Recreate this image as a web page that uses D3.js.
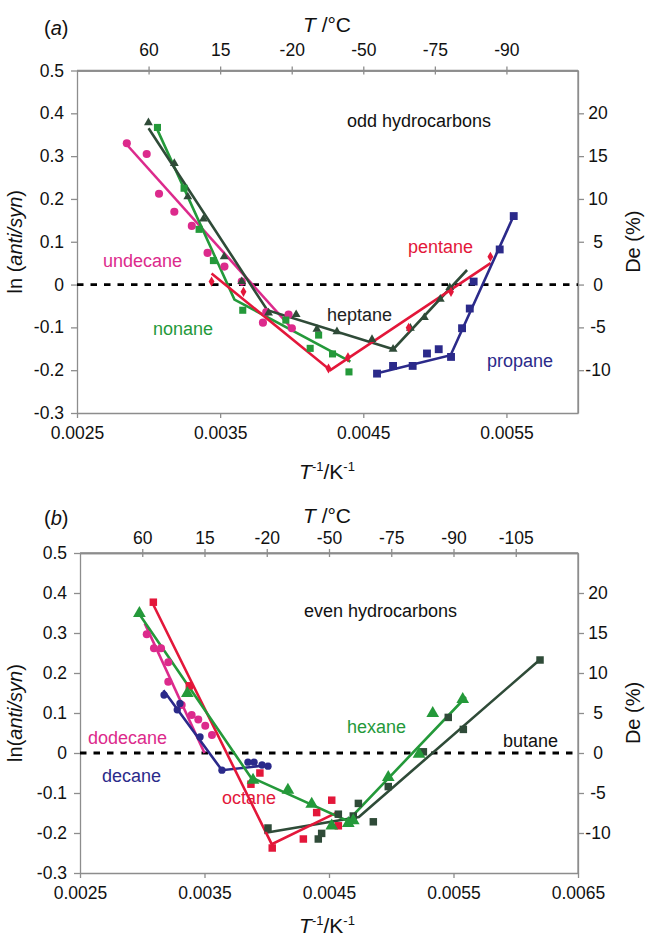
<!DOCTYPE html>
<html><head><meta charset="utf-8">
<script src="https://cdn.jsdelivr.net/npm/d3@7/dist/d3.min.js"></script>
<style>
body{margin:0;background:#fff;}
svg{display:block;font-family:"Liberation Sans",Arial,sans-serif;}
</style></head>
<body><svg id="c" width="648" height="943"></svg>
<script>
// ---------- Panel (a): odd hydrocarbons ----------
const undecaneX = [0.002848,0.002987,0.003073,0.00318,0.003302,0.003412,0.00353,0.003651,0.003799,0.003822,0.003978,0.004001];
const undecaneY = [0.330,0.305,0.212,0.170,0.137,0.074,0.042,0.007,-0.089,-0.064,-0.070,-0.102];
const undecaneFit = [[0.00285,0.326],[0.00401,-0.106]];

const heptaneX = [0.002999,0.00318,0.003274,0.003383,0.003528,0.003651,0.003838,0.004031,0.004176,0.004316,0.004561,0.004708,0.004829,0.004927,0.005038,0.005104];
const heptaneY = [0.378,0.283,0.205,0.153,0.065,0.007,-0.066,-0.070,-0.104,-0.110,-0.128,-0.151,-0.102,-0.077,-0.034,-0.007];
const heptaneFit = [[0.0030,0.365],[0.00383,-0.06],[0.00471,-0.151],[0.005225,0.034]];

const nonaneX = [0.003062,0.003248,0.003353,0.003453,0.003658,0.003959,0.004188,0.004129,0.004285,0.0044];
const nonaneY = [0.367,0.225,0.129,0.056,-0.060,-0.083,-0.118,-0.149,-0.162,-0.204];
const nonaneFit = [[0.00305,0.37],[0.0036,-0.035],[0.00441,-0.18]];

const pentaneX = [0.00344,0.003663,0.004257,0.004393,0.004817,0.005113,0.005388];
const pentaneY = [0.007,-0.017,-0.196,-0.170,-0.101,-0.017,0.065];
const pentaneFit = [[0.00344,0.026],[0.00427,-0.20],[0.00539,0.05]];

const propaneX = [0.004596,0.004708,0.004845,0.004945,0.005027,0.005113,0.00519,0.005244,0.005271,0.005453,0.005551];
const propaneY = [-0.208,-0.190,-0.190,-0.161,-0.151,-0.169,-0.102,-0.056,0.007,0.082,0.160];
const propaneFit = [[0.00459,-0.208],[0.00511,-0.165],[0.00555,0.16]];

// ---------- Panel (b): even hydrocarbons ----------
const dodecaneX = [0.003036,0.003094,0.003151,0.003209,0.003209,0.003317,0.003397,0.00345,0.003506,0.00356];
const dodecaneY = [0.297,0.262,0.262,0.227,0.178,0.120,0.095,0.084,0.068,0.045];
const dodecaneFit = [[0.00302,0.324],[0.0035,0.0]];

const decaneX = [0.003175,0.003303,0.003281,0.003464,0.00364,0.003849,0.003898,0.003962,0.00401];
const decaneY = [0.145,0.124,0.108,0.040,-0.043,-0.023,-0.023,-0.030,-0.033];
const decaneFit = [[0.00317,0.157],[0.00364,-0.043],[0.00402,-0.03]];

const octaneX = [0.003089,0.003378,0.003873,0.003945,0.004044,0.004294,0.004401,0.004522,0.004575];
const octaneY = [0.377,0.168,-0.078,-0.050,-0.2375,-0.215,-0.149,-0.118,-0.182];
const octaneFit = [[0.00309,0.37],[0.00404,-0.228],[0.00457,-0.148]];

const hexaneX = [0.002977,0.003362,0.00389,0.00417,0.004361,0.004522,0.004655,0.004695,0.004976,0.005223,0.005333,0.005574];
const hexaneY = [0.349,0.149,-0.068,-0.093,-0.128,-0.182,-0.176,-0.169,-0.061,-0.003,0.099,0.134];
const hexaneFit = [[0.00297,0.35],[0.00387,-0.06],[0.00465,-0.17],[0.0056,0.14]];

const butaneX = [0.00401,0.004414,0.004441,0.004575,0.004695,0.004736,0.004856,0.004976,0.005258,0.005458,0.005579,0.006195];
const butaneY = [-0.1875,-0.215,-0.201,-0.153,-0.1575,-0.126,-0.172,-0.084,0.003,0.089,0.059,0.2325];
const butaneFit = [[0.00398,-0.2],[0.00474,-0.16],[0.0062,0.235]];

// ---------- Ticks ----------
const yTicks = [0.5,0.4,0.3,0.2,0.1,0,-0.1,-0.2,-0.3];
const yTickLabels = ["0.5","0.4","0.3","0.2","0.1","0","-0.1","-0.2","-0.3"];
const deTicks = [0.4,0.3,0.2,0.1,0,-0.1,-0.2];
const deTickLabels = ["20","15","10","5","0","-5","-10"];
const xTicksA = [0.0025,0.0035,0.0045,0.0055];
const xTicksB = [0.0025,0.0035,0.0045,0.0055,0.0065];
const topTicksA = [0.003,0.0035,0.004,0.0045,0.005,0.0055];
const topLabelsA = ["60","15","-20","-50","-75","-90"];
const topTicksB = [0.003,0.0035,0.004,0.0045,0.005,0.0055,0.006];
const topLabelsB = ["60","15","-20","-50","-75","-90","-105"];

const C = {mag:"#dc2a8c", grn:"#24993a", dkg:"#2f4b38", red:"#e3173a", blu:"#2b2a8a"};
const svg = d3.select("#c");
const AX = "#8d8d8d";

function panel(cfg){
  const x = d3.scaleLinear().domain(cfg.xd).range(cfg.xr);
  const y = d3.scaleLinear().domain([-0.3,0.5]).range(cfg.yr);
  const g = svg.append("g");
  const [x0,x1] = cfg.xr, [yb,yt] = cfg.yr;
  // axes
  g.append("g").attr("transform",`translate(${x0},0)`)
    .call(d3.axisLeft(y).tickValues(yTicks).tickFormat((d,i)=>yTickLabels[i]).tickSize(6).tickSizeOuter(0).tickPadding(7));
  g.append("g").attr("transform",`translate(0,${yb})`)
    .call(d3.axisBottom(x).tickValues(cfg.xt).tickFormat(d3.format(".4f")).tickSize(5).tickSizeOuter(0).tickPadding(cfg.bpad));
  const right = g.append("g").attr("transform",`translate(${x1},0)`)
    .call(d3.axisRight(y).tickValues(deTicks).tickFormat((d,i)=>deTickLabels[i]).tickSize(6).tickSizeOuter(0).tickPadding(13));
  right.selectAll("text").attr("text-anchor","middle").attr("x",20);
  g.append("g").attr("transform",`translate(0,${yt})`)
    .call(d3.axisTop(x).tickValues(cfg.tt).tickFormat((d,i)=>cfg.tl[i]).tickSize(4).tickSizeOuter(0).tickPadding(cfg.tpad));
  g.append("g").attr("transform",`translate(0,${yt})`)
    .call(d3.axisTop(x).tickValues(cfg.tt).tickFormat("").tickSize(-4).tickSizeOuter(0));
  g.selectAll(".domain").attr("stroke",AX).attr("stroke-width",1.3);
  g.selectAll(".tick line").attr("stroke",AX).attr("stroke-width",1.3);
  g.selectAll(".tick text").attr("font-size",17.5).attr("fill","#111").attr("font-family","Liberation Sans, Arial");
  g.append("line").attr("x1",x1).attr("x2",x1).attr("y1",yt).attr("y2",yb).attr("stroke",AX).attr("stroke-width",1.3);
  g.append("line").attr("x1",x0).attr("x2",x1).attr("y1",yt).attr("y2",yt).attr("stroke",AX).attr("stroke-width",1.3);

  // zero dashed line
  g.append("line").attr("x1",x0).attr("x2",x1).attr("y1",y(0)).attr("y2",y(0))
    .attr("stroke","#000").attr("stroke-width",2.8).attr("stroke-dasharray","6.5,7");

  const line = d3.line().x(d=>x(d[0])).y(d=>y(d[1]));
  cfg.series.forEach(s=>{
    g.append("path").attr("d",line(s.fit)).attr("fill","none").attr("stroke",s.color).attr("stroke-width",2.6);
  });
  cfg.series.forEach(s=>{
    const sym = d3.symbol().type(s.shape).size(s.size);
    g.selectAll(null).data(s.xs.map((v,i)=>[v,s.ys[i]])).join("path")
      .attr("d",sym).attr("transform",d=>`translate(${x(d[0])},${y(d[1])})`).attr("fill",s.color);
  });
  cfg.series.forEach(s=>{
    g.append("text").attr("x",s.lx).attr("y",s.ly).attr("font-size",18).attr("fill",s.tc||s.color).text(s.name);
  });
  g.append("text").attr("x",cfg.note[0]).attr("y",cfg.note[1]).attr("font-size",18).attr("fill","#111").text(cfg.noteText);

  // titles
  const tT = g.append("text").attr("x",327).attr("y",cfg.ttY).attr("text-anchor","middle").attr("font-size",21).attr("fill","#111");
  tT.append("tspan").attr("font-style","italic").text("T");
  tT.append("tspan").text(" /°C");
  g.append("text").attr("x",44).attr("y",cfg.ttY+cfg.lblDy).attr("font-size",20).attr("fill","#111")
    .html('(<tspan font-style="italic">'+cfg.lbl+'</tspan>)');
  const bT = g.append("text").attr("x",327).attr("y",cfg.btY).attr("text-anchor","middle").attr("font-size",21).attr("fill","#111");
  bT.append("tspan").attr("font-style","italic").text("T");
  bT.append("tspan").attr("font-size",13).attr("dy",-8).text("-1");
  bT.append("tspan").attr("dy",8).text("/K");
  bT.append("tspan").attr("font-size",13).attr("dy",-8).text("-1");
  const yc = (yt+yb)/2;
  const lT = g.append("text").attr("transform",`translate(22,${yc})rotate(-90)`).attr("text-anchor","middle").attr("font-size",20).attr("fill","#111");
  lT.append("tspan").text(cfg.lnText);
  lT.append("tspan").attr("font-style","italic").text("anti/syn");
  lT.append("tspan").text(")");
  g.append("text").attr("transform",`translate(640,${yc})rotate(-90)`).attr("text-anchor","middle").attr("font-size",20).attr("fill","#111").text("De (%)");
}

panel({
  xd:[0.0025,0.006], xr:[77,578], yr:[413,70.5], xt:xTicksA, tt:topTicksA, tl:topLabelsA,
  bpad:9, tpad:11, ttY:32, lblDy:3, lbl:"a", btY:479, lnText:"ln (",
  note:[347,127], noteText:"odd hydrocarbons",
  series:[
    {name:"undecane",xs:undecaneX,ys:undecaneY,fit:undecaneFit,color:C.mag,shape:d3.symbolCircle,size:52,lx:103,ly:267},
    {name:"nonane",xs:nonaneX,ys:nonaneY,fit:nonaneFit,color:C.grn,shape:d3.symbolSquare,size:50,lx:153,ly:335},
    {name:"heptane",xs:heptaneX,ys:heptaneY,fit:heptaneFit,color:C.dkg,tc:"#222",shape:d3.symbolTriangle,size:34,lx:327,ly:321},
    {name:"pentane",xs:pentaneX,ys:pentaneY,fit:pentaneFit,color:C.red,shape:d3.symbolDiamond,size:30,lx:408,ly:253},
    {name:"propane",xs:propaneX,ys:propaneY,fit:propaneFit,color:C.blu,shape:d3.symbolSquare,size:62,lx:487,ly:367}
  ]
});

panel({
  xd:[0.0025,0.0065], xr:[80,578], yr:[873,553], xt:xTicksB, tt:topTicksB, tl:topLabelsB,
  bpad:9, tpad:5, ttY:523, lblDy:2, lbl:"b", btY:933, lnText:"ln(",
  note:[304,617], noteText:"even hydrocarbons",
  series:[
    {name:"dodecane",xs:dodecaneX,ys:dodecaneY,fit:dodecaneFit,color:C.mag,shape:d3.symbolCircle,size:50,lx:88,ly:744},
    {name:"decane",xs:decaneX,ys:decaneY,fit:decaneFit,color:C.blu,shape:d3.symbolCircle,size:42,lx:102,ly:782},
    {name:"butane",xs:butaneX,ys:butaneY,fit:butaneFit,color:C.dkg,tc:"#111",shape:d3.symbolSquare,size:56,lx:503,ly:747},
    {name:"octane",xs:octaneX,ys:octaneY,fit:octaneFit,color:C.red,shape:d3.symbolSquare,size:56,lx:222,ly:804},
    {name:"hexane",xs:hexaneX,ys:hexaneY,fit:hexaneFit,color:C.grn,shape:d3.symbolTriangle,size:70,lx:347,ly:733}
  ]
});
</script></body></html>
